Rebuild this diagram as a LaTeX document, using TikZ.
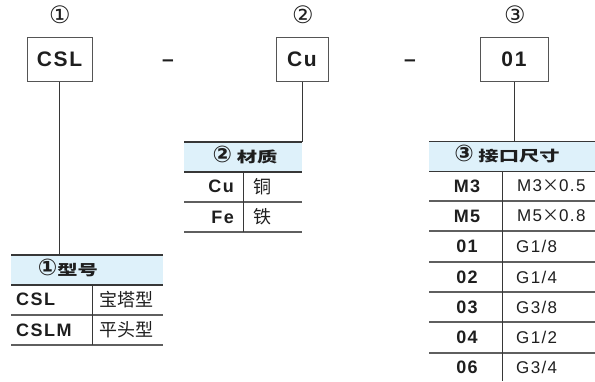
\documentclass[tikz,border=0pt]{standalone}
\usepackage{fontspec}
\setmainfont{Liberation Sans}
\newfontfamily\cjk{Noto Sans CJK SC}
\newfontfamily\cjkwide[FakeStretch=1.4]{Noto Sans CJK SC}
\newfontfamily\wide[LetterSpace=8]{Liberation Sans}
\newfontfamily\dejavu{DejaVu Sans}
\newcommand\headnum[1]{\smash{\dejavu\bfseries\fontsize{23}{23}\selectfont #1}}
\definecolor{hdblue}{RGB}{222,241,250}
\definecolor{rulegray}{RGB}{55,55,55}
\definecolor{rowgray}{RGB}{95,95,95}
\definecolor{boxgray}{RGB}{85,85,85}
\definecolor{txtdark}{RGB}{30,30,30}

\begin{document}
\begin{tikzpicture}[x=1pt, y=-1pt, every node/.style={inner sep=0pt, text=txtdark},
    codebox/.style={draw=boxgray, line width=1pt, minimum height=44pt, font=\wide\bfseries\fontsize{21}{21}\selectfont},
    marker/.style={font=\dejavu\fontsize{24}{24}\selectfont},
    joiner/.style={anchor=base, font=\bfseries\fontsize{21}{21}\selectfont},
    headfill/.style={fill=hdblue, minimum height=29.5pt, anchor=north west},
    headtext/.style={font=\cjkwide\bfseries\fontsize{14.5}{14.5}\selectfont},
    codetext/.style={font=\wide\bfseries\fontsize{18}{18}\selectfont},
    desctext/.style={font=\wide\fontsize{17}{17}\selectfont},
    desccjk/.style={font=\cjk\fontsize{18}{18}\selectfont},
    toprule/.style={line width=1.4pt, rulegray},
    rowrule/.style={line width=1.1pt, rowgray},
    colrule/.style={line width=0.9pt, rulegray},
    link/.style={line width=0.9pt, rulegray}]
    \useasboundingbox (0,0) rectangle (595,381);

    % Model code boxes
    \node[marker] (numA) at (60,15) {①};
    \node[codebox, minimum width=65pt] (boxA) at (59.5,59) {CSL};
    \node[joiner] (dashA) at (168,66) {–};

    \node[marker] (numB) at (303,15) {②};
    \node[codebox, minimum width=52pt] (boxB) at (302,59) {Cu};
    \node[joiner] (dashB) at (410,66) {–};

    \node[marker] (numC) at (515,15) {③};
    \node[codebox, minimum width=68pt] (boxC) at (514,59) {01};

    % Table 1: type
    \node[headfill, minimum width=152pt] (headA) at (11,255) {};
    \node[headtext] (titleA) at (68,270) {\headnum{①}型号};
    \draw[toprule] (headA.north west) -- (headA.north east);
    \draw[toprule] (headA.south west) -- (headA.south east);
    \draw[rowrule] (11,315) -- (163,315);
    \draw[rowrule] (11,345) -- (163,345);
    \draw[colrule] (92,284.5) -- (92,345);
    \node[codetext, anchor=west] (cslA) at (16,299.5) {CSL};
    \node[desccjk, anchor=west] (cslB) at (99,299.5) {宝塔型};
    \node[codetext, anchor=west] (cslmA) at (16,330) {CSLM};
    \node[desccjk, anchor=west] (cslmB) at (99,330) {平头型};
    \draw[link] (boxA.south) -- (boxA.south |- headA.north);

    % Table 2: material
    \node[headfill, minimum width=118pt] (headB) at (184,142) {};
    \node[headtext] (titleB) at (245,157) {\headnum{②} 材质};
    \draw[toprule] (headB.north west) -- (headB.north east);
    \draw[toprule] (headB.south west) -- (headB.south east);
    \draw[rowrule] (184,202) -- (302,202);
    \draw[rowrule] (184,232) -- (302,232);
    \draw[colrule] (243,171.5) -- (243,232);
    \node[codetext, anchor=east] (cuA) at (234,186.5) {Cu};
    \node[desccjk, anchor=west] (cuB) at (253,186.5) {铜};
    \node[codetext, anchor=east] (feA) at (234,217) {Fe};
    \node[desccjk, anchor=west] (feB) at (253,217) {铁};
    \draw[link] (boxB.south) -- (boxB.south |- headB.north);

    % Table 3: port size
    \node[headfill, minimum width=166pt] (headC) at (429,141.5) {};
    \node[headtext] (titleC) at (507,156) {\headnum{③} 接口尺寸};
    \draw[toprule] (headC.north west) -- (headC.north east);
    \draw[toprule] (headC.south west) -- (headC.south east);
    \draw[rowrule] (429,201) -- (595,201);
    \draw[rowrule] (429,231) -- (595,231);
    \draw[rowrule] (429,262) -- (595,262);
    \draw[rowrule] (429,292) -- (595,292);
    \draw[rowrule] (429,322) -- (595,322);
    \draw[rowrule] (429,353) -- (595,353);
    \draw[colrule] (502,171) -- (502,381);
    \node[codetext] (m3A) at (467,186) {M3};
    \node[desctext, anchor=west] (m3B) at (517,186) {M3{\cjk ×}0.5};
    \node[codetext] (m5A) at (467,216) {M5};
    \node[desctext, anchor=west] (m5B) at (517,216) {M5{\cjk ×}0.8};
    \node[codetext] (p01A) at (467,246.5) {01};
    \node[desctext, anchor=west] (p01B) at (516,246.5) {G1/8};
    \node[codetext] (p02A) at (467,277) {02};
    \node[desctext, anchor=west] (p02B) at (516,277) {G1/4};
    \node[codetext] (p03A) at (467,307) {03};
    \node[desctext, anchor=west] (p03B) at (516,307) {G3/8};
    \node[codetext] (p04A) at (467,337.5) {04};
    \node[desctext, anchor=west] (p04B) at (516,337.5) {G1/2};
    \node[codetext] (p06A) at (467,367) {06};
    \node[desctext, anchor=west] (p06B) at (516,367) {G3/4};
    \draw[link] (boxC.south) -- (boxC.south |- headC.north);
\end{tikzpicture}
\end{document}
